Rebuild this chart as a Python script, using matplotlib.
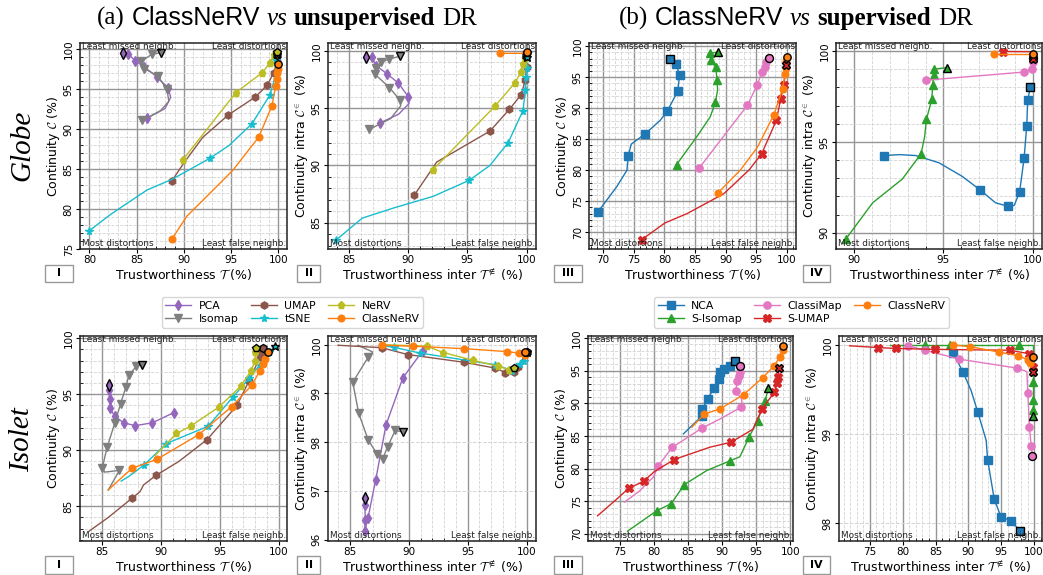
import matplotlib
matplotlib.use('Agg')  # no display
import matplotlib.pyplot as plt
from matplotlib.lines import Line2D
from matplotlib.patches import Rectangle
from matplotlib.ticker import MultipleLocator, NullLocator

plt.rcParams['mathtext.fontset'] = 'cm'

W, H = 1043, 575

unsup_names = ['PCA', 'Isomap', 'UMAP', 'tSNE', 'NeRV', 'ClassNeRV']
sup_names = ['NCA', 'S-Isomap', 'ClassiMap', 'S-UMAP', 'ClassNeRV']
panel_tags = ['I', 'II', 'III', 'IV']

# each curve: first point is the one drawn with a black edge
# --- Globe, I: trustworthiness vs continuity
g1_pca = [(83.5, 99.5), (84.1, 99.45), (84.8, 98.6), (85.8, 97.8), (87.1, 96.6), (88.3, 95.2),
          (88.6, 94.0), (88.0, 92.6), (86.1, 91.4)]
g1_iso = [(87.6, 99.6), (86.6, 99.4), (85.5, 98.5), (85.8, 97.6), (87.2, 96.7), (88.2, 95.0),
          (88.4, 93.5), (87.5, 92.3), (85.6, 91.1)]
g1_umap = [(99.85, 99.3), (99.84, 98.5), (99.5, 97.1), (98.8, 95.5), (97.5, 94.0), (94.7, 91.8),
           (92.0, 89.0), (90.0, 85.8), (88.7, 83.5)]
g1_tsne = [(99.8, 99.4), (99.77, 98.7), (99.6, 96.4), (99.1, 94.3), (97.2, 90.7), (94.8, 88.0),
           (92.8, 86.4), (88.7, 83.7), (86.1, 82.4), (82.2, 79.3), (80.0, 77.3)]
g1_nerv = [(99.8, 99.7), (99.5, 99.3), (99.1, 98.3), (98.3, 97.1), (95.5, 94.6), (89.9, 86.2)]
g1_cnerv = [(99.9, 98.15), (99.9, 97.6), (99.85, 97.1), (99.8, 96.3), (99.7, 95.4), (99.3, 92.9),
            (97.9, 89.0), (95.2, 84.9), (93.1, 82.4), (90.3, 79.1), (88.7, 76.2)]

# --- Globe, II: trustworthiness inter vs continuity intra
g2_pca = [(86.4, 99.5), (86.9, 99.45), (87.3, 98.7), (88.2, 98.0), (89.15, 97.2), (90.0, 96.0),
          (90.05, 95.4), (89.2, 94.5), (87.6, 93.7)]
g2_iso = [(89.3, 99.55), (88.4, 99.3), (87.7, 99.05), (87.3, 98.5), (87.2, 97.95), (88.4, 96.8),
          (89.3, 95.7), (89.35, 95.2), (88.5, 94.1), (86.7, 93.15)]
g2_umap = [(99.95, 99.6), (100.0, 98.6), (99.9, 97.5), (99.55, 96.2), (98.55, 94.9), (96.9, 93.0),
           (92.4, 90.3), (90.5, 87.4)]
g2_tsne = [(100.0, 99.5), (100.0, 98.5), (99.97, 97.7), (99.9, 96.6), (99.7, 94.8), (98.45, 92.0),
           (96.9, 90.0), (95.15, 88.7), (92.1, 87.3), (88.8, 86.3), (86.1, 85.4), (83.9, 83.5)]
g2_nerv = [(100.0, 99.8), (99.9, 99.35), (99.7, 98.85), (99.55, 98.2), (99.0, 97.2), (97.35, 95.2),
           (92.05, 89.6)]
g2_cnerv = [(100.0, 99.9), (99.95, 99.8), (97.75, 99.8)]

# --- Globe, III
g3_nca = [(80.85, 97.9), (81.9, 97.05), (82.5, 95.4), (82.2, 92.75), (80.5, 89.55), (79.3, 88.0),
          (76.9, 85.9), (74.6, 84.2), (74.1, 82.3), (73.9, 80.0), (72.2, 77.3), (69.1, 73.2)]
g3_siso = [(88.8, 99.05), (87.5, 98.85), (87.6, 97.8), (88.4, 96.6), (88.6, 94.6), (88.7, 92.9),
           (88.35, 91.0), (87.5, 88.6), (85.3, 85.4), (82.0, 80.9)]
g3_cmap = [(97.1, 98.05), (96.55, 97.4), (96.4, 96.7), (95.9, 95.8), (95.2, 93.8), (93.55, 90.45),
           (85.7, 80.35)]
g3_sumap = [(99.85, 97.0), (99.55, 93.8), (99.0, 91.5), (98.3, 88.05), (95.9, 82.65), (93.8, 80.0),
            (89.7, 76.2), (83.7, 73.0), (80.1, 71.5), (76.3, 68.8)]
g3_cnerv = [(100.0, 98.2), (99.85, 97.55), (99.85, 96.5), (99.7, 95.55), (99.3, 93.1), (97.9, 88.95),
            (95.2, 83.7), (92.4, 80.0), (88.7, 76.3)]

# --- Globe, IV
g4_nca = [(99.85, 98.0), (99.7, 97.3), (99.65, 95.9), (99.5, 94.1), (99.25, 92.25), (98.95, 91.5),
          (98.6, 91.45), (97.9, 91.65), (97.05, 92.35), (96.05, 93.1), (94.75, 93.85), (93.45, 94.25),
          (92.55, 94.3), (91.7, 94.25)]
g4_siso = [(95.2, 99.1), (94.45, 99.0), (94.45, 98.7), (94.4, 98.15), (94.35, 97.35), (94.05, 96.25),
           (93.95, 95.3), (93.75, 94.35), (92.7, 92.95), (91.05, 91.65), (89.55, 89.65)]
g4_cmap = [(100.0, 99.6), (100.0, 99.4), (99.95, 99.0), (99.5, 98.85), (94.0, 98.4)]
g4_sumap = [(100.0, 99.55), (100.0, 99.75), (100.0, 99.97), (98.35, 99.98)]
g4_cnerv = [(100.0, 99.85), (97.8, 99.85)]

# --- Isolet, I
i1_pca = [(85.57, 95.87), (85.57, 95.35), (85.62, 94.55), (85.62, 93.8), (86.05, 93.05), (86.8, 92.45),
          (87.8, 92.2), (89.25, 92.45), (91.05, 93.35)]
i1_iso = [(88.4, 97.65), (87.9, 97.5), (87.25, 96.7), (87.0, 95.65), (86.55, 94.15), (86.05, 92.4),
          (85.4, 90.25), (85.0, 88.45), (85.2, 88.05), (86.45, 88.2), (85.5, 86.45)]
i1_umap = [(98.65, 99.15), (98.55, 98.75), (98.4, 98.3), (97.45, 96.15), (96.45, 94.0), (93.9, 90.95),
           (91.5, 89.0), (89.55, 87.75), (88.5, 86.9), (88.2, 86.3), (87.5, 85.7), (85.5, 84.0),
           (83.9, 82.8)]
i1_tsne = [(99.7, 99.35), (99.2, 98.8), (98.4, 97.65), (97.5, 96.45), (96.1, 94.75), (94.0, 92.15),
           (90.45, 90.6), (88.5, 88.65), (87.3, 87.7), (86.6, 87.25)]
i1_nerv = [(98.1, 99.15), (98.0, 98.75), (98.0, 98.0), (97.65, 97.1), (96.75, 95.7), (94.9, 93.85),
           (92.5, 92.15), (91.3, 91.5), (89.5, 89.55)]
i1_cnerv = [(99.05, 98.8), (98.85, 98.15), (98.65, 97.7), (98.4, 97.1), (97.7, 95.8), (96.0, 93.9),
            (93.2, 91.4), (89.65, 89.2), (87.55, 88.4), (87.0, 87.9), (85.5, 86.45)]

# --- Isolet, II
i2_pca = [(86.28, 96.86), (86.28, 96.7), (86.32, 96.4), (86.25, 96.18), (86.55, 96.45), (87.2, 97.23),
          (88.07, 98.35), (89.5, 99.32), (91.2, 99.88)]
i2_iso = [(89.5, 98.21), (88.85, 98.24), (88.2, 97.9), (87.8, 97.66), (87.3, 97.76), (86.55, 98.05),
          (85.75, 98.6), (85.25, 99.23), (86.55, 99.74), (86.95, 99.85), (85.7, 99.99)]
i2_umap = [(100.0, 99.85), (99.3, 99.55), (98.9, 99.44), (98.2, 99.43), (97.35, 99.52), (94.7, 99.64),
           (89.9, 99.8), (87.7, 99.94), (84.0, 99.99)]
i2_tsne = [(100.0, 99.85), (99.74, 99.66), (99.4, 99.61), (98.8, 99.47), (97.33, 99.59), (90.94, 99.83),
           (88.72, 99.95), (87.5, 99.99)]
i2_nerv = [(98.92, 99.53), (98.55, 99.49), (97.56, 99.56), (95.48, 99.68), (92.93, 99.84), (91.56, 99.97),
           (88.0, 100.0)]
i2_cnerv = [(99.89, 99.85), (99.9, 99.78), (99.32, 99.83), (98.32, 99.86), (94.72, 99.92), (90.37, 99.97),
            (87.76, 99.99)]

# --- Isolet, III
i3_nca = [(91.9, 96.43), (91.1, 95.77), (90.2, 95.26), (89.7, 94.74), (89.6, 93.72), (88.8, 92.3),
          (87.85, 90.66), (87.1, 89.13), (87.1, 88.11), (84.3, 85.3)]
i3_siso = [(96.8, 92.35), (96.3, 90.4), (95.2, 87.35), (93.95, 84.8), (92.6, 81.8), (91.2, 81.2),
           (87.75, 79.7), (84.45, 77.55), (82.5, 74.6), (80.4, 73.55), (76.1, 70.4)]
i3_cmap = [(92.55, 95.77), (92.55, 94.85), (92.5, 94.23), (92.15, 93.37), (92.05, 91.84), (92.9, 90.56),
           (92.8, 89.4), (89.7, 87.6), (87.0, 86.17), (82.7, 83.27), (80.65, 80.46), (79.9, 78.7),
           (77.9, 76.6), (75.65, 74.85)]
i3_sumap = [(98.4, 95.41), (98.2, 94.08), (98.05, 93.06), (97.65, 91.68), (95.85, 89.13), (94.5, 86.0),
            (91.3, 84.03), (88.2, 83.27), (82.95, 81.38), (80.0, 79.5), (78.5, 78.06), (76.3, 76.99),
            (74.5, 75.3), (71.7, 72.76)]
i3_cnerv = [(99.0, 98.72), (98.87, 98.21), (98.43, 97.04), (97.65, 95.77), (95.93, 93.88), (93.14, 91.33),
            (89.71, 89.13), (87.4, 88.37), (85.55, 86.33)]

# --- Isolet, IV
i4_nca = [(97.88, 97.91), (96.46, 98.03), (94.95, 98.07), (93.94, 98.27), (93.7, 98.37), (92.93, 98.71),
          (92.7, 98.93), (91.41, 99.25), (90.4, 99.49), (89.14, 99.7), (87.68, 99.91)]
i4_siso = [(99.9, 99.2), (99.9, 99.27), (99.9, 99.38), (99.9, 99.58), (99.9, 100.0), (97.63, 100.0),
           (87.17, 100.0), (83.38, 100.0), (78.0, 100.0)]
i4_cmap = [(99.75, 98.75), (99.55, 98.87), (99.29, 99.08), (99.04, 99.46), (98.9, 99.7), (97.37, 99.74),
           (88.64, 99.84), (83.38, 99.94), (80.86, 99.99)]
i4_sumap = [(99.8, 99.7), (99.8, 99.75), (99.29, 99.9), (96.36, 99.94), (84.9, 99.95), (79.04, 99.96),
            (76.3, 99.97), (71.9, 99.99)]
i4_cnerv = [(99.8, 99.87), (99.4, 99.8), (99.14, 99.83), (97.5, 99.88), (94.6, 99.92), (90.3, 99.98),
            (87.68, 100.0)]

STYLE = {
    'PCA': ('#9467bd', 'd', 5.2),
    'Isomap': ('#7f7f7f', 'v', 5.2),
    'UMAP': ('#8c564b', 'h', 5.2),
    'tSNE': ('#17becf', '*', 5.8),
    'NeRV': ('#bcbd22', 'p', 5.2),
    'ClassNeRV': ('#ff7f0e', 'o', 4.8),
    'NCA': ('#1f77b4', 's', 5.3),
    'S-Isomap': ('#2ca02c', '^', 5.2),
    'ClassiMap': ('#e377c2', 'o', 5.2),
    'S-UMAP': ('#d62728', 'X', 5.2),
}

SERIF = 'Liberation Serif'
SANS = 'Liberation Sans'


def px_box(l, t, r, b):
    return [l / W, 1 - b / H, (r - l) / W, (b - t) / H]


def curve(ax, pts, name, mk=None):
    c, m, ms = STYLE[name]
    xs = [p[0] for p in pts]
    ys = [p[1] for p in pts]
    if mk is None:
        mk = list(range(len(pts)))
    ax.plot(xs, ys, color=c, lw=1.0, marker=m, ms=ms, mec=c,
            markevery=[i for i in mk if i != 0], zorder=3)
    ax.plot(xs[:1], ys[:1], ls='none', marker=m, ms=ms + 0.5, color=c,
            mec='black', mew=1.0, zorder=4)


def setup(ax, xlim, ylim, xlabel, ylabel, ymaj=5, ymin=1, ydash=False):
    ax.set_xlim(*xlim)
    ax.set_ylim(*ylim)
    ax.xaxis.set_major_locator(MultipleLocator(5))
    ax.xaxis.set_minor_locator(MultipleLocator(1))
    ax.yaxis.set_major_locator(MultipleLocator(ymaj))
    if ymin:
        ax.yaxis.set_minor_locator(MultipleLocator(ymin))
    else:
        ax.yaxis.set_minor_locator(NullLocator())
    ax.grid(which='major', axis='x', color='#959595', lw=1.0)
    ax.grid(which='minor', color='#d3d3d3', lw=0.6, ls='--')
    if ydash:
        ax.grid(which='major', axis='y', color='#d3d3d3', lw=0.7, ls='--')
    else:
        ax.grid(which='major', axis='y', color='#959595', lw=1.0)
    ax.set_axisbelow(True)
    ax.tick_params(which='major', labelsize=7.5, length=3, width=0.8, pad=1.5)
    ax.tick_params(which='minor', direction='in', length=2, width=0.6)
    ax.tick_params(axis='y', labelrotation=90)
    for lab in ax.get_yticklabels():
        lab.set_va('center')
    for s in ax.spines.values():
        s.set_linewidth(1.1)
        s.set_color('#222222')
    ax.set_xlabel(xlabel, fontsize=9, labelpad=1)
    ax.set_ylabel(ylabel, fontsize=9, labelpad=1)
    kw = dict(transform=ax.transAxes, fontsize=6.4, color='#222222', zorder=5)
    ax.text(0.01, 1.005, 'Least missed neighb.', ha='left', va='top', **kw)
    ax.text(0.995, 1.005, 'Least distortions', ha='right', va='top', **kw)
    ax.text(0.01, 0.003, 'Most distortions', ha='left', va='bottom', **kw)
    ax.text(0.995, 0.003, 'Least false neighb.', ha='right', va='bottom', **kw)


def tag(fig, l, t, r, b, s):
    fig.patches.append(Rectangle((l / W, 1 - b / H), (r - l) / W, (b - t) / H,
                                 transform=fig.transFigure, fill=False,
                                 edgecolor='#9a9a9a', lw=1.0))
    fig.text((l + r) / 2 / W, 1 - (t + b) / 2 / H, s, ha='center', va='center',
             fontsize=8, fontweight='bold')


def mixed_title(fig, cx, base_y, parts, size):
    r = fig.canvas.get_renderer()
    texts = [fig.text(0, 1 - base_y / H, s, fontsize=size, va='baseline', **kw)
             for s, kw in parts]
    widths = [t.get_window_extent(r).width for t in texts]
    gap = size * 0.27 * fig.dpi / 72
    total = sum(widths) + gap * (len(texts) - 1)
    x = cx - total / 2
    for t, w in zip(texts, widths):
        t.set_x(x / W)
        x += w + gap


fig = plt.figure(figsize=(W / 100, H / 100), dpi=100)

lab_t = r'Trustworthiness $\mathcal{T}$ (%)'
lab_c = r'Continuity $\mathcal{C}$ (%)'
lab_ti = r'Trustworthiness inter $\mathcal{T}^{\notin}$ (%)'
lab_ci = r'Continuity intra $\mathcal{C}^{\in}$ (%)'

# ---------------- Globe row
ax = fig.add_axes(px_box(80, 43, 287, 249))
setup(ax, (79, 100.9), (75, 100.8), lab_t, lab_c)
curve(ax, g1_pca, 'PCA', [0, 1, 2, 3, 4, 5, 8])
curve(ax, g1_iso, 'Isomap', [0, 1, 2, 3, 4, 5, 8])
curve(ax, g1_umap, 'UMAP', [0, 1, 2, 3, 4, 5, 8])
curve(ax, g1_tsne, 'tSNE', [0, 1, 3, 4, 6, 10])
curve(ax, g1_nerv, 'NeRV')
curve(ax, g1_cnerv, 'ClassNeRV', [0, 1, 2, 3, 4, 5, 6, 10])

ax = fig.add_axes(px_box(328, 43, 536, 249))
setup(ax, (83.2, 100.8), (82.7, 100.7), lab_ti, lab_ci)
curve(ax, g2_pca, 'PCA', [0, 1, 2, 3, 4, 5, 8])
curve(ax, g2_iso, 'Isomap', [0, 1, 2, 3, 4, 5, 6, 9])
curve(ax, g2_umap, 'UMAP', [0, 1, 2, 3, 4, 5, 7])
curve(ax, g2_tsne, 'tSNE', [0, 1, 2, 3, 4, 5, 7, 11])
curve(ax, g2_nerv, 'NeRV')
curve(ax, g2_cnerv, 'ClassNeRV')

ax = fig.add_axes(px_box(589, 43, 796, 249))
setup(ax, (67.7, 101.5), (67.3, 100.5), lab_t, lab_c)
curve(ax, g3_nca, 'NCA', [0, 1, 2, 3, 4, 6, 8, 11])
curve(ax, g3_siso, 'S-Isomap', [0, 1, 2, 3, 4, 6, 9])
curve(ax, g3_cmap, 'ClassiMap')
curve(ax, g3_sumap, 'S-UMAP', [0, 1, 2, 3, 4, 9])
curve(ax, g3_cnerv, 'ClassNeRV', [0, 1, 2, 3, 4, 5, 8])

ax = fig.add_axes(px_box(836, 43, 1042, 249))
setup(ax, (89, 100.5), (89.1, 100.45), lab_ti, lab_ci)
curve(ax, g4_nca, 'NCA', [0, 1, 2, 3, 4, 6, 8, 13])
curve(ax, g4_siso, 'S-Isomap', [0, 1, 2, 3, 4, 5, 7, 10])
curve(ax, g4_cmap, 'ClassiMap')
curve(ax, g4_sumap, 'S-UMAP', [0, 1, 3])
curve(ax, g4_cnerv, 'ClassNeRV')

# ---------------- Isolet row
ax = fig.add_axes(px_box(80, 336, 287, 541))
setup(ax, (83.1, 100.7), (81.9, 100.2), lab_t, lab_c)
curve(ax, i1_pca, 'PCA')
curve(ax, i1_iso, 'Isomap', [0, 1, 2, 3, 4, 5, 6, 7, 9])
curve(ax, i1_umap, 'UMAP', [0, 1, 2, 3, 4, 5, 7, 10])
curve(ax, i1_tsne, 'tSNE', [0, 1, 2, 3, 4, 5, 6, 7])
curve(ax, i1_nerv, 'NeRV', [0, 1, 2, 3, 4, 5, 6, 7])
curve(ax, i1_cnerv, 'ClassNeRV', [0, 1, 2, 3, 4, 5, 6, 7, 8])

ax = fig.add_axes(px_box(328, 336, 536, 541))
setup(ax, (83.15, 100.8), (95.97, 100.18), lab_ti, lab_ci, ymaj=1, ymin=0, ydash=True)
curve(ax, i2_pca, 'PCA')
curve(ax, i2_iso, 'Isomap', [0, 1, 2, 3, 4, 5, 6, 7, 8])
curve(ax, i2_umap, 'UMAP', [0, 1, 2, 3, 4, 5, 6, 7])
curve(ax, i2_tsne, 'tSNE', [0, 1, 2, 3, 4, 5, 6])
curve(ax, i2_nerv, 'NeRV', [0, 1, 2, 3, 4, 5])
curve(ax, i2_cnerv, 'ClassNeRV')

ax = fig.add_axes(px_box(588, 336, 793, 541))
setup(ax, (70.3, 100.4), (68.9, 100.3), lab_t, lab_c)
curve(ax, i3_nca, 'NCA', [0, 1, 2, 3, 4, 5, 6, 7, 8])
curve(ax, i3_siso, 'S-Isomap', [0, 1, 2, 3, 5, 7, 8, 9])
curve(ax, i3_cmap, 'ClassiMap', [0, 1, 2, 3, 4, 6, 8, 9, 10])
curve(ax, i3_sumap, 'S-UMAP', [0, 1, 2, 3, 4, 6, 8, 10, 11])
curve(ax, i3_cnerv, 'ClassNeRV', [0, 1, 2, 3, 4, 5, 6, 7])

ax = fig.add_axes(px_box(839, 336, 1042, 541))
setup(ax, (70.3, 101.2), (97.8, 100.1), lab_ti, lab_ci, ymaj=1, ymin=0, ydash=True)
curve(ax, i4_nca, 'NCA', [0, 1, 2, 3, 5, 7, 9, 10])
curve(ax, i4_siso, 'S-Isomap', [0, 1, 2, 3, 5, 6, 7])
curve(ax, i4_cmap, 'ClassiMap', [0, 1, 2, 3, 5, 6, 7, 8])
curve(ax, i4_sumap, 'S-UMAP', [0, 1, 2, 3, 4, 5, 6])
curve(ax, i4_cnerv, 'ClassNeRV')

# panel tags
for row_t, row_b in [(265, 282), (556, 574)]:
    for (l, r), s in zip([(45, 73), (297, 320), (554, 582), (803, 830)], panel_tags):
        tag(fig, l, row_t, r, row_b, s)


def handles(names):
    out = []
    for n in names:
        c, m, ms = STYLE[n]
        out.append(Line2D([], [], color=c, lw=1.0, marker=m, ms=ms, mec=c))
    return out


leg_kw = dict(loc='center', ncol=3, fontsize=7.8, frameon=True, handlelength=2.4,
              columnspacing=1.1, borderpad=0.35, labelspacing=0.25, handletextpad=0.7,
              edgecolor='#cccccc', fancybox=True)
fig.legend(handles(unsup_names), unsup_names, bbox_to_anchor=(292.5 / W, 1 - 312.5 / H), **leg_kw)
fig.legend(handles(sup_names), sup_names, bbox_to_anchor=(801.5 / W, 1 - 312.5 / H), **leg_kw)

# row labels
fig.text(22 / W, 1 - 145 / H, 'Globe', rotation=90, ha='center', va='center',
         family=SERIF, style='italic', fontsize=21)
fig.text(22 / W, 1 - 440 / H, 'Isolet', rotation=90, ha='center', va='center',
         family=SERIF, style='italic', fontsize=21)

mixed_title(fig, 287, 25, [('(a)', dict(family=SERIF)),
                           ('ClassNeRV', dict(family=SANS)),
                           ('vs', dict(family=SERIF, style='italic')),
                           ('unsupervised', dict(family=SERIF, fontweight='bold')),
                           ('DR', dict(family=SERIF))], 18)
mixed_title(fig, 796, 25, [('(b)', dict(family=SERIF)),
                           ('ClassNeRV', dict(family=SANS)),
                           ('vs', dict(family=SERIF, style='italic')),
                           ('supervised', dict(family=SERIF, fontweight='bold')),
                           ('DR', dict(family=SERIF))], 18)

fig.savefig('out.png', dpi=100, facecolor='white')
